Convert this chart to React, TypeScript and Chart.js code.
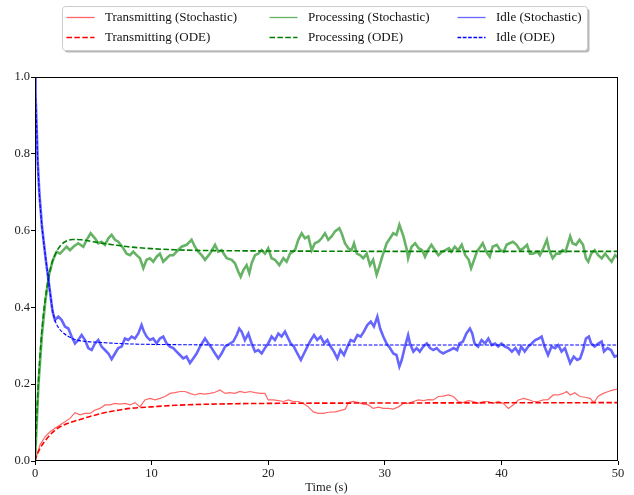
import React, { useEffect, useRef } from "react";
import { Chart, registerables } from "chart.js";

Chart.register(...registerables);

const xTicks = [0, 10, 20, 30, 40, 50];
const yTicks = [0, 0.2, 0.4, 0.6, 0.8, 1.0];
const xTitle = "Time (s)";
const seriesLabels = [
  "Transmitting (Stochastic)",
  "Transmitting (ODE)",
  "Processing (Stochastic)",
  "Processing (ODE)",
  "Idle (Stochastic)",
  "Idle (ODE)",
];

const transStoch: [number, number][] = [
  [0, 0], [0.43, 0.042], [0.86, 0.063], [1.29, 0.076], [1.71, 0.085], [2.14, 0.094], [2.57, 0.102],
  [3.0, 0.111], [3.43, 0.126], [3.86, 0.12], [4.29, 0.124], [4.72, 0.124], [5.15, 0.133], [5.57, 0.137],
  [6.0, 0.146], [6.43, 0.146], [6.86, 0.15], [7.29, 0.148], [7.72, 0.15], [8.15, 0.146], [8.58, 0.152],
  [9.0, 0.141], [9.43, 0.159], [9.86, 0.163], [10.3, 0.159], [10.72, 0.163], [11.15, 0.168], [11.58, 0.176],
  [12.0, 0.178], [12.44, 0.181], [12.86, 0.181], [13.3, 0.176], [13.72, 0.172], [14.15, 0.176], [14.58, 0.174],
  [15.0, 0.176], [15.43, 0.179], [15.87, 0.185], [16.3, 0.176], [16.72, 0.178], [17.15, 0.176], [17.58, 0.181],
  [18.0, 0.178], [18.44, 0.181], [18.87, 0.178], [19.3, 0.176], [19.72, 0.176], [20.0, 0.159], [20.44, 0.159],
  [20.87, 0.157], [21.3, 0.155], [21.73, 0.159], [22.15, 0.155], [22.6, 0.155], [23.0, 0.15], [23.44, 0.141],
  [23.87, 0.128], [24.3, 0.124], [24.73, 0.124], [25.16, 0.127], [25.73, 0.128], [26.16, 0.131], [26.6, 0.135],
  [26.87, 0.152], [27.3, 0.155], [27.73, 0.152], [28.16, 0.148], [28.6, 0.146], [29.0, 0.137], [29.45, 0.14],
  [29.87, 0.137], [30.3, 0.137], [30.73, 0.135], [31.16, 0.141], [31.6, 0.15], [32.0, 0.15], [32.45, 0.155],
  [32.88, 0.159], [33.3, 0.157], [33.7, 0.16], [34.16, 0.159], [34.6, 0.168], [35.0, 0.169], [35.45, 0.172],
  [35.88, 0.168], [36.3, 0.155], [36.7, 0.152], [37.16, 0.157], [37.6, 0.155], [38.0, 0.15], [38.45, 0.155],
  [38.88, 0.155], [39.3, 0.15], [39.74, 0.155], [40.16, 0.15], [40.6, 0.137], [41.0, 0.146], [41.45, 0.159],
  [41.9, 0.163], [42.3, 0.16], [42.74, 0.155], [43.16, 0.155], [43.6, 0.159], [44.0, 0.16], [44.45, 0.172],
  [44.9, 0.172], [45.3, 0.176], [45.6, 0.181], [45.9, 0.172], [46.3, 0.178], [46.74, 0.168], [47.17, 0.166],
  [47.6, 0.163], [47.94, 0.152], [48.3, 0.169], [48.74, 0.176], [49.17, 0.181], [49.6, 0.185], [50, 0.187],
];

const transODE: [number, number][] = [
  [0, 0], [0.1, 0.01], [0.2, 0.018], [0.43, 0.033], [0.8, 0.05], [1.29, 0.068], [1.7, 0.08], [2.14, 0.089],
  [3.0, 0.1], [3.86, 0.108], [4.5, 0.114], [5.57, 0.123], [6.5, 0.129], [8.15, 0.137], [10, 0.141],
  [12, 0.145], [15, 0.148], [20, 0.15], [30, 0.151], [50, 0.152],
];

const procStoch: [number, number][] = [
  [0, 0], [0.3, 0.2], [0.6, 0.33], [0.9, 0.42], [1.2, 0.485], [1.5, 0.52], [1.71, 0.536], [1.86, 0.545],
  [2.14, 0.54], [2.43, 0.549], [2.71, 0.558], [3.0, 0.549], [3.29, 0.558], [3.71, 0.567], [4.14, 0.558],
  [4.43, 0.576], [4.77, 0.593], [5.14, 0.58], [5.43, 0.567], [5.71, 0.571], [6.0, 0.563], [6.29, 0.58],
  [6.57, 0.589], [6.86, 0.576], [7.14, 0.571], [7.57, 0.554], [7.86, 0.54], [8.14, 0.536], [8.43, 0.545],
  [8.71, 0.536], [9.0, 0.528], [9.29, 0.502], [9.57, 0.524], [9.86, 0.528], [10.14, 0.519], [10.43, 0.532],
  [10.71, 0.54], [11.0, 0.519], [11.29, 0.528], [11.57, 0.536], [11.86, 0.536], [12.14, 0.545], [12.57, 0.558],
  [13.0, 0.563], [13.43, 0.576], [13.71, 0.558], [14.0, 0.545], [14.29, 0.536], [14.58, 0.524], [15.0, 0.54],
  [15.44, 0.563], [15.72, 0.545], [16.0, 0.549], [16.44, 0.528], [16.87, 0.524], [17.15, 0.515], [17.44, 0.493],
  [17.64, 0.48], [17.87, 0.497], [18.15, 0.51], [18.38, 0.489], [18.58, 0.515], [18.87, 0.536], [19.15, 0.54],
  [19.44, 0.549], [19.72, 0.54], [20.0, 0.554], [20.29, 0.528], [20.58, 0.524], [20.95, 0.51], [21.3, 0.528],
  [21.58, 0.519], [21.87, 0.54], [22.3, 0.549], [22.58, 0.576], [22.87, 0.593], [23.15, 0.58], [23.44, 0.585],
  [23.73, 0.549], [24.0, 0.567], [24.3, 0.571], [24.58, 0.58], [24.87, 0.593], [25.15, 0.576], [25.44, 0.585],
  [25.73, 0.598], [26.1, 0.606], [26.3, 0.593], [26.58, 0.567], [26.87, 0.554], [27.15, 0.549], [27.36, 0.567],
  [27.6, 0.54], [27.87, 0.536], [28.15, 0.528], [28.45, 0.54], [28.73, 0.51], [29.0, 0.524], [29.3, 0.485],
  [29.53, 0.506], [29.82, 0.536], [30.16, 0.567], [30.45, 0.58], [30.73, 0.593], [31.0, 0.589], [31.25, 0.615],
  [31.6, 0.585], [31.9, 0.549], [32.0, 0.528], [32.3, 0.558], [32.6, 0.567], [32.9, 0.554], [33.2, 0.549],
  [33.45, 0.532], [33.7, 0.549], [34.0, 0.563], [34.3, 0.549], [34.6, 0.536], [34.9, 0.545], [35.2, 0.549],
  [35.5, 0.554], [35.7, 0.545], [36.0, 0.558], [36.3, 0.549], [36.6, 0.563], [36.9, 0.536], [37.2, 0.524],
  [37.4, 0.502], [37.6, 0.519], [37.9, 0.545], [38.2, 0.558], [38.4, 0.567], [38.7, 0.545], [39.0, 0.532],
  [39.25, 0.558], [39.6, 0.563], [39.9, 0.549], [40.2, 0.545], [40.45, 0.563], [40.7, 0.567], [41.0, 0.571],
  [41.3, 0.563], [41.6, 0.549], [41.9, 0.554], [42.2, 0.563], [42.45, 0.54], [42.7, 0.54], [43.1, 0.545],
  [43.3, 0.536], [43.6, 0.554], [43.9, 0.576], [44.1, 0.549], [44.4, 0.528], [44.7, 0.54], [45.0, 0.54],
  [45.25, 0.549], [45.5, 0.545], [45.9, 0.585], [46.1, 0.567], [46.4, 0.563], [46.7, 0.576], [47.0, 0.563],
  [47.25, 0.528], [47.45, 0.519], [47.7, 0.54], [48.0, 0.549], [48.3, 0.536], [48.6, 0.528], [48.9, 0.54],
  [49.2, 0.528], [49.45, 0.519], [49.75, 0.536], [50, 0.53],
];

const procODE: [number, number][] = [
  [0, 0], [0.1, 0.08], [0.2, 0.15], [0.3, 0.21], [0.5, 0.305], [0.7, 0.375], [0.9, 0.425], [1.1, 0.466],
  [1.3, 0.497], [1.5, 0.52], [1.75, 0.539], [2.0, 0.553], [2.3, 0.565], [2.7, 0.573], [3.2, 0.577],
  [4, 0.576], [5, 0.571], [6, 0.566], [7, 0.562], [8, 0.558], [10, 0.553], [12, 0.55], [15, 0.548],
  [20, 0.547], [30, 0.546], [50, 0.546],
];

const idleStoch: [number, number][] = [
  [0, 1.0], [0.05, 0.95], [0.14, 0.87], [0.23, 0.78], [0.37, 0.7], [0.6, 0.61], [0.94, 0.52], [1.14, 0.475],
  [1.29, 0.44], [1.5, 0.39], [1.71, 0.367], [2.0, 0.376], [2.29, 0.367], [2.57, 0.35], [2.86, 0.345],
  [3.14, 0.324], [3.43, 0.306], [3.71, 0.315], [4.0, 0.328], [4.29, 0.315], [4.57, 0.294], [4.86, 0.289],
  [5.14, 0.306], [5.43, 0.315], [5.71, 0.298], [6.0, 0.289], [6.29, 0.28], [6.57, 0.265], [6.86, 0.28],
  [7.14, 0.294], [7.43, 0.298], [7.71, 0.319], [8.0, 0.315], [8.29, 0.324], [8.57, 0.319], [8.86, 0.332],
  [9.14, 0.354], [9.34, 0.337], [9.57, 0.324], [9.86, 0.315], [10.14, 0.319], [10.43, 0.306], [10.71, 0.319],
  [11.0, 0.324], [11.29, 0.306], [11.57, 0.298], [11.86, 0.294], [12.14, 0.285], [12.43, 0.276], [12.71, 0.267],
  [13.0, 0.272], [13.29, 0.255], [13.57, 0.267], [13.86, 0.28], [14.15, 0.298], [14.58, 0.319], [14.87, 0.306],
  [15.15, 0.294], [15.44, 0.28], [15.72, 0.267], [16.0, 0.28], [16.3, 0.298], [16.72, 0.306], [17.0, 0.311],
  [17.3, 0.328], [17.52, 0.345], [17.72, 0.337], [18.0, 0.315], [18.3, 0.332], [18.58, 0.306], [18.87, 0.285],
  [19.15, 0.289], [19.44, 0.28], [19.72, 0.294], [20.0, 0.306], [20.29, 0.324], [20.58, 0.315], [20.87, 0.332],
  [21.15, 0.324], [21.44, 0.337], [21.64, 0.324], [21.93, 0.306], [22.2, 0.298], [22.5, 0.28], [22.8, 0.263],
  [23.07, 0.28], [23.36, 0.298], [23.65, 0.315], [23.93, 0.328], [24.2, 0.315], [24.5, 0.324], [24.8, 0.306],
  [25.07, 0.315], [25.35, 0.298], [25.64, 0.285], [25.93, 0.267], [26.2, 0.289], [26.5, 0.276], [26.8, 0.298],
  [27.07, 0.315], [27.36, 0.311], [27.65, 0.328], [27.93, 0.324], [28.2, 0.337], [28.5, 0.354], [28.8, 0.363],
  [29.07, 0.35], [29.36, 0.376], [29.6, 0.345], [29.87, 0.324], [30.15, 0.306], [30.44, 0.294], [30.73, 0.28],
  [31.0, 0.276], [31.25, 0.246], [31.45, 0.263], [31.73, 0.298], [32.0, 0.328], [32.16, 0.306], [32.45, 0.285],
  [32.73, 0.294], [33.0, 0.285], [33.3, 0.298], [33.6, 0.306], [33.88, 0.294], [34.16, 0.289], [34.45, 0.294],
  [34.73, 0.285], [35.0, 0.28], [35.3, 0.285], [35.6, 0.289], [35.9, 0.294], [36.2, 0.289], [36.4, 0.306],
  [36.7, 0.311], [37.0, 0.332], [37.3, 0.345], [37.5, 0.332], [37.7, 0.306], [38.0, 0.298], [38.3, 0.315],
  [38.6, 0.306], [38.88, 0.319], [39.16, 0.302], [39.45, 0.306], [39.73, 0.298], [40.0, 0.306], [40.3, 0.298],
  [40.6, 0.294], [40.9, 0.285], [41.2, 0.294], [41.5, 0.28], [41.7, 0.298], [42.0, 0.285], [42.3, 0.298],
  [42.6, 0.306], [42.9, 0.315], [43.2, 0.319], [43.45, 0.324], [43.7, 0.298], [44.0, 0.276], [44.3, 0.298],
  [44.6, 0.294], [44.88, 0.302], [45.16, 0.285], [45.45, 0.294], [45.7, 0.272], [45.9, 0.255], [46.2, 0.272],
  [46.5, 0.263], [46.75, 0.267], [47.0, 0.289], [47.25, 0.319], [47.5, 0.324], [47.7, 0.306], [48.0, 0.298],
  [48.3, 0.306], [48.6, 0.311], [48.8, 0.285], [49.1, 0.294], [49.4, 0.289], [49.7, 0.272], [50, 0.275],
];

const idleODE: [number, number][] = [
  [0, 1.0], [0.05, 0.955], [0.14, 0.871], [0.23, 0.784], [0.37, 0.697], [0.6, 0.61], [0.94, 0.524],
  [1.14, 0.476], [1.29, 0.44], [1.5, 0.395], [1.7, 0.368], [2.0, 0.348], [2.5, 0.332], [3.0, 0.322],
  [3.6, 0.315], [4.5, 0.311], [6, 0.308], [8, 0.305], [12, 0.303], [20, 0.302], [50, 0.302],
];

const FONT = "'Liberation Serif', 'Times New Roman', serif";

type Spec = { color: string; width: number; dash: number[]; legendWidth: number };
const specs: Spec[] = [
  { color: "rgba(255,0,0,0.6)", width: 1.2, dash: [], legendWidth: 1.3 },
  { color: "#ff0000", width: 1.6, dash: [5.5, 2.4], legendWidth: 1.6 },
  { color: "rgba(0,128,0,0.6)", width: 2.6, dash: [], legendWidth: 1.3 },
  { color: "#008000", width: 1.6, dash: [5.5, 2.4], legendWidth: 1.6 },
  { color: "rgba(0,0,255,0.6)", width: 2.6, dash: [], legendWidth: 1.3 },
  { color: "#0000ff", width: 1.1, dash: [3.7, 1.6], legendWidth: 1.3 },
];

function roundRect(ctx: CanvasRenderingContext2D, x: number, y: number, w: number, h: number, r: number) {
  ctx.beginPath();
  ctx.moveTo(x + r, y);
  ctx.lineTo(x + w - r, y);
  ctx.arcTo(x + w, y, x + w, y + r, r);
  ctx.lineTo(x + w, y + h - r);
  ctx.arcTo(x + w, y + h, x + w - r, y + h, r);
  ctx.lineTo(x + r, y + h);
  ctx.arcTo(x, y + h, x, y + h - r, r);
  ctx.lineTo(x, y + r);
  ctx.arcTo(x, y, x + r, y, r);
  ctx.closePath();
}

const framePlugin = {
  id: "frameAndLegend",
  afterDraw(chart: any) {
    const { ctx, chartArea: a } = chart;
    ctx.save();
    ctx.strokeStyle = "#000";
    ctx.lineWidth = 1;
    ctx.setLineDash([]);
    const l = Math.floor(a.left) + 0.5;
    const t = Math.floor(a.top) + 0.5;
    const r = Math.floor(a.right) - 0.5;
    const b = Math.floor(a.bottom) - 0.5;
    ctx.strokeRect(l, t, r - l, b - t);

    const bx = 62.5, by = 6.5, bw = 525, bh = 44;
    ctx.fillStyle = "rgba(0,0,0,0.28)";
    roundRect(ctx, bx + 2, by + 2, bw, bh, 3);
    ctx.fill();
    ctx.fillStyle = "#fff";
    roundRect(ctx, bx, by, bw, bh, 3);
    ctx.fill();
    ctx.strokeStyle = "#cccccc";
    ctx.lineWidth = 1;
    ctx.stroke();

    const colX = [66.5, 269.5, 457.5];
    const rowY = [17, 37];
    ctx.font = `13px ${FONT}`;
    ctx.textBaseline = "middle";
    ctx.textAlign = "left";
    seriesLabels.forEach((label, i) => {
      const col = Math.floor(i / 2);
      const row = i % 2;
      const s = specs[i];
      const x0 = colX[col];
      const y0 = rowY[row];
      ctx.save();
      ctx.beginPath();
      ctx.strokeStyle = s.color;
      ctx.lineWidth = s.legendWidth;
      ctx.setLineDash(s.dash);
      ctx.moveTo(x0, y0 + 0.5);
      ctx.lineTo(x0 + 28, y0 + 0.5);
      ctx.stroke();
      ctx.restore();
      ctx.fillStyle = "#111";
      ctx.fillText(label, x0 + 38.5, y0 + 1);
    });
    ctx.restore();
  },
};

export default function App() {
  const ref = useRef<HTMLCanvasElement>(null);
  useEffect(() => {
    const canvas = ref.current;
    if (!canvas) return;
    const toXY = (arr: [number, number][]) => arr.map(([x, y]) => ({ x, y }));
    const all = [transStoch, transODE, procStoch, procODE, idleStoch, idleODE];
    const datasets = all.map((arr, i) => ({
      label: seriesLabels[i],
      data: toXY(arr),
      borderColor: specs[i].color,
      backgroundColor: specs[i].color,
      borderWidth: specs[i].width,
      borderDash: specs[i].dash.slice(),
      pointRadius: 0,
      fill: false,
      tension: 0,
      cubicInterpolationMode: i % 2 === 1 ? ("monotone" as const) : ("default" as const),
      order: 6 - i,
    }));
    const chart = new Chart(canvas, {
      type: "line",
      data: { datasets },
      options: {
        responsive: false,
        animation: false,
        layout: { padding: { top: 77, right: 16, left: 0, bottom: 0 } },
        plugins: { legend: { display: false }, tooltip: { enabled: false }, title: { display: false } },
        scales: {
          x: {
            type: "linear",
            min: 0,
            max: 50,
            afterFit: (s: any) => { s.height = 34; },
            afterBuildTicks: (s: any) => { s.ticks = xTicks.map((v) => ({ value: v })); },
            ticks: {
              autoSkip: false,
              maxRotation: 0,
              padding: 1,
              color: "#222",
              font: { family: FONT, size: 12.5 },
              callback: (v: any) => String(v),
            },
            grid: { display: true, drawOnChartArea: false, drawTicks: true, tickLength: 4, tickColor: "#000", tickWidth: 1 },
            border: { display: false },
            title: { display: true, text: xTitle, color: "#222", font: { family: FONT, size: 12.5 }, padding: { top: 0, bottom: 0 } },
          },
          y: {
            type: "linear",
            min: 0,
            max: 1,
            afterFit: (s: any) => { s.width = 35; },
            afterBuildTicks: (s: any) => { s.ticks = yTicks.map((v) => ({ value: v })); },
            ticks: {
              padding: 1,
              color: "#222",
              font: { family: FONT, size: 12.5 },
              callback: (v: any) => Number(v).toFixed(1),
            },
            grid: { display: true, drawOnChartArea: false, drawTicks: true, tickLength: 4, tickColor: "#000", tickWidth: 1 },
            border: { display: false },
          },
        },
      },
      plugins: [framePlugin],
    });
    return () => chart.destroy();
  }, []);
  return (
    <div style={{ position: "absolute", left: 0, top: 0, width: 634, height: 495, background: "#fff" }}>
      <canvas ref={ref} width={634} height={495} style={{ display: "block" }} />
    </div>
  );
}
